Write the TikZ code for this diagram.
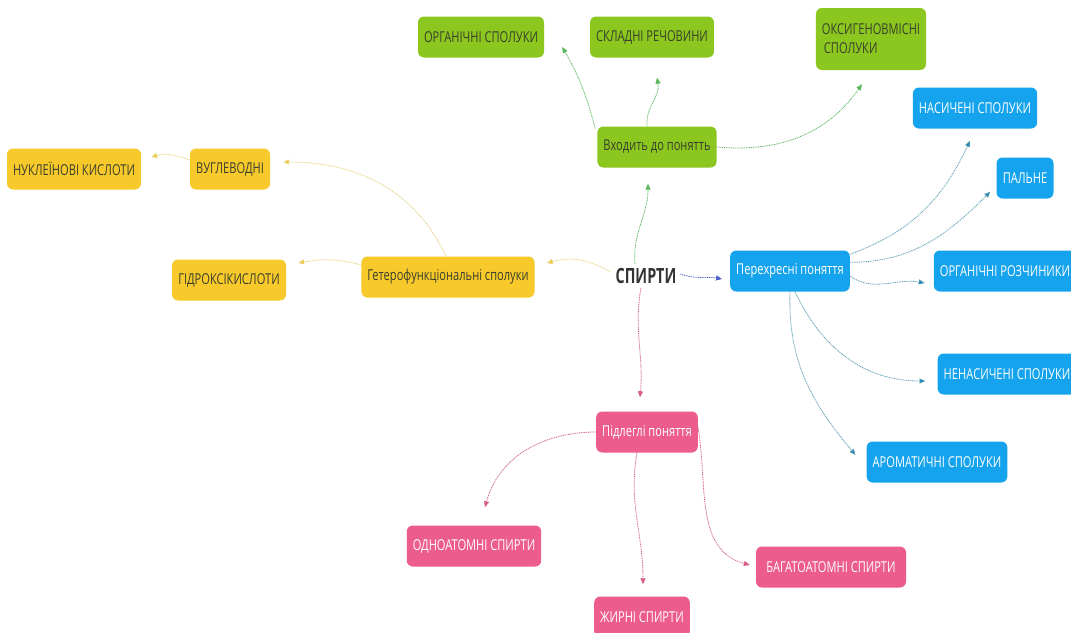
\documentclass[tikz,border=0pt]{standalone}
\usepackage{fontspec}
\setmainfont{Open Sans}[FakeStretch=0.74]
\usetikzlibrary{arrows.meta}
\definecolor{gbox}{HTML}{8CC71F}
\definecolor{ybox}{HTML}{F7C92A}
\definecolor{bbox}{HTML}{14A3EC}
\definecolor{pbox}{HTML}{EC5C8C}
\definecolor{gline}{HTML}{5CB85C}
\definecolor{yline}{HTML}{E8D27A}
\definecolor{bline}{HTML}{5A9CB4}
\definecolor{pline}{HTML}{D0607E}
\definecolor{cline}{HTML}{4A5FC8}
\definecolor{dtext}{HTML}{3A3F2E}
\tikzset{
  box/.style={rounded corners=6pt, minimum height=41pt, inner xsep=6pt, font=\fontsize{15}{19}\selectfont, align=center},
  gbx/.style={box, fill=gbox, text=dtext},
  ybx/.style={box, fill=ybox, text=dtext},
  bbx/.style={box, fill=bbox, text=white},
  pbx/.style={box, fill=pbox, text=white},
  conn/.style={line width=0.8pt, dash pattern=on 1pt off 0.8pt},
  gc/.style={conn, draw=gline, -{Triangle[length=6pt,width=5pt,fill=gline]}},
  yc/.style={conn, draw=yline, -{Triangle[length=6pt,width=5pt,fill=ybox]}},
  bc/.style={conn, draw=bline, -{Triangle[length=6pt,width=5pt,fill=bbox!80!black]}},
  pc/.style={conn, draw=pline, -{Triangle[length=6pt,width=5pt,fill=pbox]}},
}
\begin{document}
\begin{tikzpicture}[x=1pt,y=-1pt]
\useasboundingbox[fill=white] (0,0) rectangle (1071,632);
% centre
\node[font=\bfseries\fontsize{21}{24}\selectfont, text=black!80, inner sep=2pt] (sp) at (646,276) {\scalebox{0.92}[1]{СПИРТИ}};
% green
\node[gbx, minimum width=119pt] (vh) at (657,147) {Входить до понятть};
\node[gbx, minimum width=118pt] (og) at (481,37) {ОРГАНІЧНІ СПОЛУКИ};
\node[gbx, minimum width=116pt] (sk) at (652,37) {СКЛАДНІ РЕЧОВИНИ};
\node[gbx, minimum width=108pt, minimum height=62pt, align=left] (ok) at (871,39) {ОКСИГЕНОВМІСНІ\\\hspace*{2pt}СПОЛУКИ};
% blue
\node[bbx, minimum width=119pt] (pe) at (790,271) {Перехресні поняття};
\node[bbx, minimum width=121pt] (na) at (975,108) {НАСИЧЕНІ СПОЛУКИ};
\node[bbx, minimum width=57pt] (pa) at (1025,178) {ПАЛЬНЕ};
\node[bbx, minimum width=141pt] (or) at (1005,271) {ОРГАНІЧНІ РОЗЧИНИКИ};
\node[bbx, minimum width=136pt] (ne) at (1007,374) {НЕНАСИЧЕНІ СПОЛУКИ};
\node[bbx, minimum width=137pt] (ar) at (937,462) {АРОМАТИЧНІ СПОЛУКИ};
% yellow
\node[ybx, minimum width=172pt] (ge) at (448,277) {Гетерофункціональні сполуки};
\node[ybx, minimum width=114pt] (gi) at (229,280) {ГІДРОКСІКИСЛОТИ};
\node[ybx, minimum width=80pt] (vu) at (230,169) {ВУГЛЕВОДНІ};
\node[ybx, minimum width=132pt] (nu) at (74,169) {НУКЛЕЇНОВІ КИСЛОТИ};
% pink
\node[pbx, minimum width=99pt] (pi) at (647,432) {Підлеглі поняття};
\node[pbx, minimum width=124pt] (od) at (474,546) {ОДНОАТОМНІ СПИРТИ};
\node[pbx, minimum width=89pt] (zh) at (642,617) {ЖИРНІ СПИРТИ};
\node[pbx, minimum width=150pt] (ba) at (831,567) {БАГАТОАТОМНІ СПИРТИ};
% connectors green
\draw[gc] ([xshift=-11pt,yshift=2pt]sp.north) to[out=95,in=-90] ([xshift=-9pt,yshift=-16pt]vh.south);
\draw[gc] ([xshift=-2pt,yshift=-2pt]vh.north west) to[out=105,in=-60] ([xshift=18pt,yshift=-10pt]og.east);
\draw[gc] ([xshift=-10pt]vh.north) to[out=95,in=-80] ([xshift=5pt,yshift=-20pt]sk.south);
\draw[gc] (vh.east) to[out=-5,in=-125] ([xshift=-9pt,yshift=-14pt]ok.south);
% yellow
\draw[yc] ([xshift=-3pt,yshift=4pt]sp.west) to[out=150,in=15] ([xshift=12pt,yshift=14pt]ge.east);
\draw[yc] ([yshift=12pt]ge.west) to[out=165,in=10] ([xshift=12pt,yshift=17pt]gi.east);
\draw[yc] ([xshift=-2pt]ge.north) to[out=115,in=0] ([xshift=13pt,yshift=7pt]vu.east);
\draw[yc] ([yshift=9pt]vu.west) to[out=160,in=15] ([xshift=10pt,yshift=12pt]nu.east);
% blue
\draw[conn, draw=cline, -{Triangle[length=6pt,width=5pt,fill=cline]}] ([xshift=2pt,yshift=2pt]sp.east) to[out=-20,in=170] ([xshift=-8pt,yshift=-8pt]pe.west);
\draw[bc] ([yshift=-4pt]pe.north east) to[out=20,in=-115] ([xshift=-5pt,yshift=-12pt]na.south);
\draw[bc] ([yshift=-12pt]pe.north east) to[out=0,in=-135] ([xshift=-6pt,yshift=7pt]pa.south west);
\draw[bc] ([yshift=-5pt]pe.east) to[out=-35,in=170] ([xshift=-9pt,yshift=-12pt]or.west);
\draw[bc] ([xshift=5pt]pe.south) to[out=-65,in=180] ([xshift=-12pt,yshift=-7pt]ne.west);
\draw[bc] (pe.south) to[out=-92,in=130] ([xshift=-11pt,yshift=7pt]ar.west);
% pink
\draw[pc] ([xshift=-5pt,yshift=-2pt]sp.south) to[out=-100,in=85] ([xshift=-7pt,yshift=14pt]pi.north);
\draw[pc] (pi.west) to[out=180,in=75] ([xshift=11pt,yshift=18pt]od.north);
\draw[pc] ([xshift=-10pt]pi.south) to[out=-100,in=90] ([xshift=1pt,yshift=12pt]zh.north);
\draw[pc] ([yshift=-16pt]pi.north east) to[out=-80,in=165] ([xshift=-6pt,yshift=2pt]ba.west);
\end{tikzpicture}
\end{document}
